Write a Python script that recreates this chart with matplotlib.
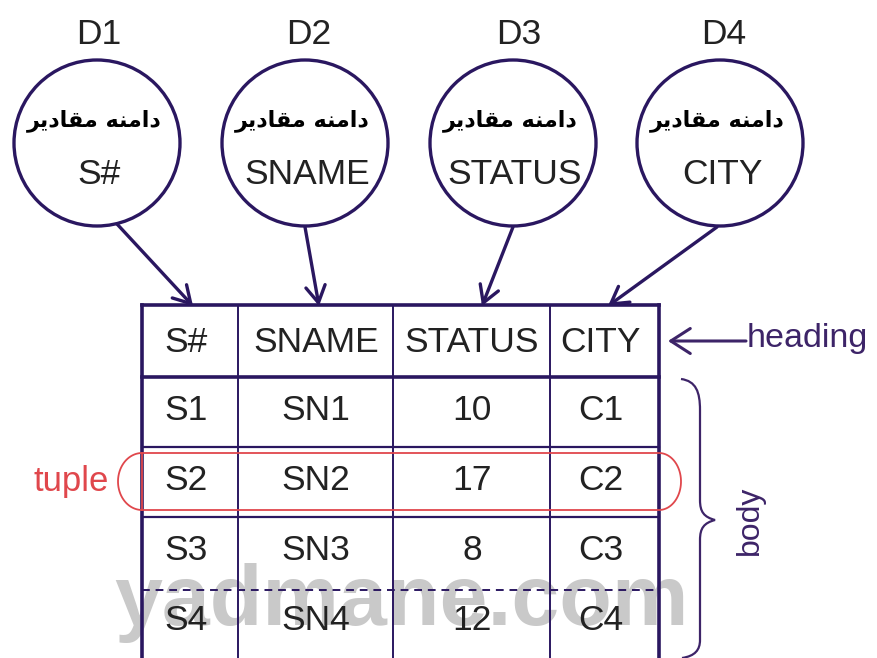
import matplotlib.pyplot as plt
import numpy as np
from matplotlib.patches import Circle, PathPatch
from matplotlib.path import Path

# domains (circles) and relation table data
domains = ['D1', 'D2', 'D3', 'D4']
attributes = ['S#', 'SNAME', 'STATUS', 'CITY']
# "دامنه مقادیر" written in presentation forms, visual order (matplotlib has no bidi shaping)
domain_caption = '\uFEAE\uFEF3\uFEA9\uFE8E\uFED8\uFEE3 \uFEEA\uFEE8\uFEE3\uFE8D\uFEA9'
s_no = ['S1', 'S2', 'S3', 'S4']
sname = ['SN1', 'SN2', 'SN3', 'SN4']
status = ['10', '17', '8', '12']
city = ['C1', 'C2', 'C3', 'C4']
rows = list(zip(s_no, sname, status, city))

line_c = '#2a1760'
text_c = '#222222'
purple = '#3d2468'
red = '#e0474c'
fs = 25.5

fig = plt.figure(figsize=(8.77, 6.58), dpi=100)
ax = fig.add_axes([0, 0, 1, 1])
ax.set_xlim(0, 877)
ax.set_ylim(658, 0)
ax.axis('off')

# circle geometry
circ_x = [97, 305, 513, 720]
circ_y = 143
r = 83
label_x = [99, 309, 519, 724]
arrow_from = [(117, 224), (305, 227), (513, 227), (717, 227)]
arrow_to = [(193, 306), (319, 306), (482, 306), (608, 306)]

for i, d in enumerate(domains):
    ax.add_patch(Circle((circ_x[i], circ_y), r, fill=False, ec=line_c, lw=2.4))
    ax.text(label_x[i], 35, d, fontsize=fs, family='Liberation Sans', color=text_c,
            ha='center', va='center')
    ax.text(circ_x[i] - 3, 121, domain_caption, fontsize=16, family='DejaVu Sans',
            weight='bold', color='black', ha='center', va='center')
    ax.text(circ_x[i] + 2, 175, attributes[i], fontsize=fs, family='Liberation Sans',
            color=text_c, ha='center', va='center')
    ax.annotate('', xy=arrow_to[i], xytext=arrow_from[i],
                arrowprops=dict(arrowstyle='->,head_length=0.6,head_width=0.35',
                                color=line_c, lw=2.4, mutation_scale=20,
                                shrinkA=0, shrinkB=0))

# watermark
ax.text(402, 625, 'yadmane.com', fontsize=62, family='Liberation Sans', weight='bold',
        color='#c9c9c9', ha='center', va='baseline', zorder=0)

# table
col_x = [142, 238, 393, 550, 659]
row_y = [305, 377, 447, 517, 590, 660]
col_center = [186, 316, 472, 601]
row_center = [342, 411, 481, 551, 621]

ax.plot([col_x[0], col_x[-1]], [row_y[0], row_y[0]], color=line_c, lw=2.6, zorder=3)
ax.plot([col_x[0], col_x[-1]], [row_y[1], row_y[1]], color=line_c, lw=2.6, zorder=3)
ax.plot([col_x[0], col_x[-1]], [row_y[2], row_y[2]], color=line_c, lw=1.6, zorder=3)
ax.plot([col_x[0], col_x[-1]], [row_y[3], row_y[3]], color=line_c, lw=1.6, zorder=3)
ax.plot([col_x[0], col_x[-1]], [row_y[4], row_y[4]], color=line_c, lw=1.4, ls=(0, (4, 3)), zorder=3)
for j, xv in enumerate(col_x):
    lw = 2.6 if j in (0, len(col_x) - 1) else 1.4
    ax.plot([xv, xv], [row_y[0], row_y[-1]], color=line_c, lw=lw, zorder=3)

for j, a in enumerate(attributes):
    ax.text(col_center[j], row_center[0], a, fontsize=fs, family='Liberation Sans',
            color=text_c, ha='center', va='center', zorder=4)
for i, row in enumerate(rows):
    for j, v in enumerate(row):
        ax.text(col_center[j], row_center[i + 1], v, fontsize=fs, family='Liberation Sans',
                color=text_c, ha='center', va='center', zorder=4)

# heading arrow
ax.annotate('', xy=(668, 341), xytext=(746, 341),
            arrowprops=dict(arrowstyle='->,head_length=0.7,head_width=0.45',
                            color=purple, lw=2.2, mutation_scale=20, shrinkA=0, shrinkB=0))
ax.text(747, 338, 'heading', fontsize=24.5, family='Liberation Sans', color=purple,
        ha='left', va='center')

# tuple stadium
t = np.linspace(np.pi / 2, 3 * np.pi / 2, 40)
left = np.column_stack([142 + 24 * np.cos(t), 481.5 - 28.5 * np.sin(t)])
t2 = np.linspace(-np.pi / 2, np.pi / 2, 40)
right = np.column_stack([659 + 22 * np.cos(t2), 481.5 - 28.5 * np.sin(t2)])
verts = np.vstack([[[142, 453], [659, 453]], right[::-1], [[659, 510], [142, 510]], left])
ax.plot(verts[:, 0], verts[:, 1], color=red, lw=1.3, zorder=5)
ax.text(71, 482, 'tuple', fontsize=25, family='Liberation Sans', color=red,
        ha='center', va='center')

# body brace
brace = Path([(681, 379), (696, 381), (700, 392), (700, 410),
              (700, 500), (700, 512), (704, 517), (715, 520),
              (704, 523), (700, 528), (700, 540), (700, 640),
              (700, 650), (695, 656), (682, 658)],
             [Path.MOVETO, Path.CURVE4, Path.CURVE4, Path.CURVE4,
              Path.LINETO, Path.CURVE4, Path.CURVE4, Path.CURVE4,
              Path.CURVE4, Path.CURVE4, Path.CURVE4, Path.LINETO,
              Path.CURVE4, Path.CURVE4, Path.CURVE4])
ax.add_patch(PathPatch(brace, fill=False, ec=purple, lw=1.6))
ax.text(750, 520, 'body', fontsize=23, family='Liberation Sans', color=purple,
        rotation=90, ha='center', va='center')

fig.savefig('out.png', dpi=100)
